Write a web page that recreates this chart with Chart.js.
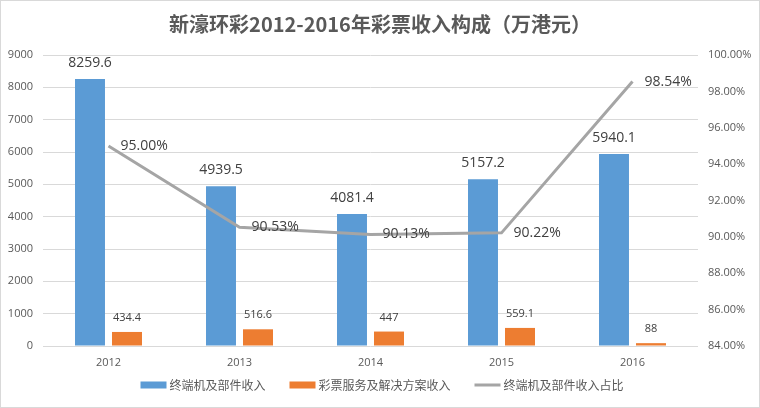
<!DOCTYPE html>
<html>
<head>
<meta charset="utf-8">
<script src="https://cdn.jsdelivr.net/npm/chart.js@4.4.1/dist/chart.umd.min.js"></script>
<style>
    body { margin: 0; background: #fff; }
    canvas { display: block; }
</style>
</head>
<body>
<canvas id="revenueChart" width="760" height="408"></canvas>
<script>
// Data
const years = ['2012', '2013', '2014', '2015', '2016'];
const terminalRevenue = [8259.6, 4939.5, 4081.4, 5157.2, 5940.1];
const serviceRevenue = [434.4, 516.6, 447, 559.1, 88];
const terminalShare = [95.00, 90.53, 90.13, 90.22, 98.54];
const seriesNames = ['终端机及部件收入', '彩票服务及解决方案收入', '终端机及部件收入占比'];

const numFont = '"Open Sans", "Noto Sans", sans-serif';
const cjkFont = '"Noto Sans CJK SC", "Noto Sans", sans-serif';

// Value labels above bars and next to line points
const valueLabels = {
    id: 'valueLabels',
    afterDatasetsDraw(chart) {
        const ctx = chart.ctx;
        ctx.save();
        ctx.fillStyle = '#404040';
        ctx.textBaseline = 'middle';

        chart.getDatasetMeta(0).data.forEach((bar, i) => {
            ctx.font = '14px ' + numFont;
            ctx.textAlign = 'center';
            ctx.fillText(terminalRevenue[i], bar.x, bar.y - 16);
        });
        chart.getDatasetMeta(1).data.forEach((bar, i) => {
            ctx.font = '11px ' + numFont;
            ctx.textAlign = 'center';
            ctx.fillText(serviceRevenue[i], bar.x, bar.y - 14);
        });
        chart.getDatasetMeta(2).data.forEach((pt, i) => {
            ctx.font = '14px ' + numFont;
            ctx.textAlign = 'left';
            ctx.fillText(terminalShare[i].toFixed(2) + '%', pt.x + 12, pt.y);
        });
        ctx.restore();
    }
};

// Excel-like legend at the bottom plus chart border
const bottomLegend = {
    id: 'bottomLegend',
    afterDraw(chart) {
        const ctx = chart.ctx;
        const datasets = chart.data.datasets;
        const y = 385;
        ctx.save();
        ctx.font = '12px ' + cjkFont;
        ctx.textBaseline = 'middle';
        ctx.textAlign = 'left';

        const boxW = 26, gapText = 3, gapItem = 24;
        const widths = datasets.map(d => boxW + gapText + ctx.measureText(d.label).width);
        const total = widths.reduce((a, b) => a + b, 0) + gapItem * (widths.length - 1);
        let x = 382 - total / 2;

        datasets.forEach((d, i) => {
            if (d.type === 'line') {
                ctx.fillStyle = d.borderColor;
                ctx.fillRect(x, y - 1.5, boxW, 3);
            } else {
                ctx.fillStyle = d.backgroundColor;
                ctx.fillRect(x, y - 3.5, boxW, 7);
            }
            ctx.fillStyle = '#595959';
            ctx.fillText(d.label, x + boxW + gapText, y);
            x += widths[i] + gapItem;
        });

        ctx.strokeStyle = '#d9d9d9';
        ctx.lineWidth = 1;
        ctx.strokeRect(0.5, 0.5, chart.width - 1, chart.height - 1);
        ctx.restore();
    }
};

const ctx = document.getElementById('revenueChart').getContext('2d');
new Chart(ctx, {
    data: {
        labels: years,
        datasets: [
            {
                type: 'bar',
                label: seriesNames[0],
                data: terminalRevenue,
                backgroundColor: '#5b9bd5',
                yAxisID: 'y',
                order: 2,
                categoryPercentage: 0.565,
                barPercentage: 0.81
            },
            {
                type: 'bar',
                label: seriesNames[1],
                data: serviceRevenue,
                backgroundColor: '#ed7d31',
                yAxisID: 'y',
                order: 2,
                categoryPercentage: 0.565,
                barPercentage: 0.81
            },
            {
                type: 'line',
                label: seriesNames[2],
                data: terminalShare,
                borderColor: '#a5a5a5',
                backgroundColor: '#a5a5a5',
                borderWidth: 3,
                pointRadius: 0,
                tension: 0,
                yAxisID: 'y1',
                order: 1
            }
        ]
    },
    options: {
        responsive: false,
        animation: false,
        layout: {
            padding: { left: 0, right: 0, top: 0, bottom: 30 }
        },
        plugins: {
            legend: { display: false },
            tooltip: { enabled: false },
            title: {
                display: true,
                text: '新濠环彩2012-2016年彩票收入构成（万港元）',
                color: '#595959',
                font: { family: cjkFont, size: 20, weight: 'bold' },
                padding: { top: 12, bottom: 19 }
            }
        },
        scales: {
            x: {
                grid: { display: false },
                border: { display: false },
                ticks: {
                    color: '#595959',
                    font: { family: numFont, size: 11 },
                    padding: 2,
                    maxRotation: 0
                },
                afterFit(scale) { scale.height = 32; }
            },
            y: {
                position: 'left',
                min: 0,
                max: 9000,
                grid: { color: '#d9d9d9', drawTicks: false },
                border: { display: false },
                ticks: {
                    stepSize: 1000,
                    color: '#595959',
                    font: { family: numFont, size: 11 },
                    padding: 10,
                    callback: v => String(v)
                },
                afterFit(scale) { scale.width = 43; }
            },
            y1: {
                position: 'right',
                min: 84,
                max: 100,
                grid: { display: false, drawTicks: false },
                border: { display: false },
                ticks: {
                    stepSize: 2,
                    color: '#595959',
                    font: { family: numFont, size: 11 },
                    padding: 10,
                    callback: v => v.toFixed(2) + '%'
                },
                afterFit(scale) { scale.width = 62; }
            }
        }
    },
    plugins: [valueLabels, bottomLegend]
});
</script>
</body>
</html>
